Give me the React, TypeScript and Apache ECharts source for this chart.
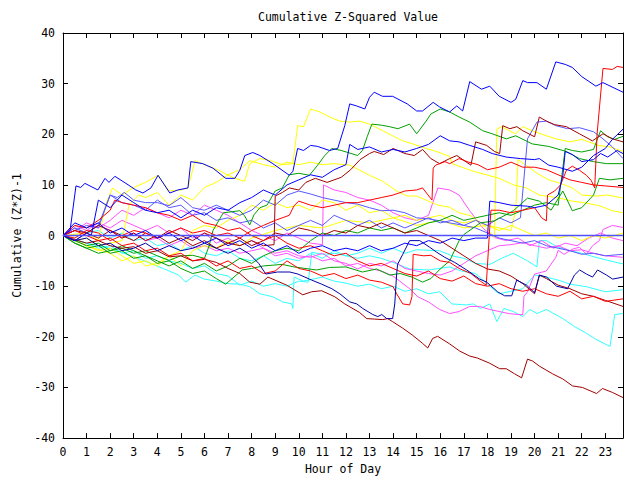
import React, { useEffect, useRef } from "react";
import * as echarts from "echarts";

type P = [number, number];

const title = "Cumulative Z-Squared Value";
const xName = "Hour of Day";
const yName = "Cumulative (Z*Z)-1";
const hourTicks = Array.from({ length: 24 }, (_, i) => i);

const blueTop: P[] = [[0,0],[0.3,1],[0.55,9.8],[0.75,9.5],[0.93,10.3],[1.48,9],[1.78,11.3],[1.95,10.5],[2.2,11.7],[2.67,10.3],[3.09,9],[3.39,8.4],[3.73,9.4],[4.03,11.9],[4.53,8.4],[4.87,9],[5.3,9.4],[5.42,14.6],[5.93,14.2],[6.36,13.3],[6.9,11.3],[7.29,11.3],[7.5,12.9],[7.71,15.8],[8.05,16.4],[8.35,15.8],[8.9,14.2],[9.6,11.9],[9.75,12.7],[9.95,17.2],[10.2,16.8],[10.5,17.8],[10.8,17.6],[11.3,16.8],[11.65,17.2],[11.95,21.7],[12.16,26],[12.45,25.6],[12.8,25],[13.0,27.3],[13.2,28.3],[13.55,27.5],[13.98,27.5],[14.6,26],[15.0,24.6],[15.25,24.6],[15.7,26.3],[15.97,25.4],[16.4,24.4],[16.7,25.6],[16.95,24.6],[17.25,30.4],[17.75,28.9],[18.1,29.5],[18.5,27.5],[19.0,26.3],[19.2,26.9],[19.5,30.6],[19.7,30.2],[20.1,30.2],[20.5,28.9],[20.9,34.3],[21.3,33.8],[21.6,33.2],[22.0,31.4],[22.6,29.5],[22.9,30.2],[23.75,28.3]];
const blueMid: P[] = [[0,0],[0.5,-1],[1,0.5],[1.2,0],[1.5,7],[2,5.5],[2.5,8],[3,6.5],[3.5,5],[4,4.5],[4.5,5],[5,3.5],[5.5,5],[6,4],[6.5,5.5],[7,5],[7.5,6.5],[8,7.5],[8.5,9],[9,8],[9.5,10],[10,11],[10.5,12],[11,11.5],[11.5,13],[12,14],[12.16,18],[12.5,17],[13,17.5],[13.5,16.5],[14,17],[14.5,16.5],[15,17.2],[15.5,18],[16,19.7],[16.4,18.7],[16.8,18.5],[17.25,17.8],[17.8,17],[18.2,16.2],[18.8,15.5],[19.4,15.2],[20,15],[20.2,15.2],[20.6,13.9],[21,13.5],[21.6,12.7],[22,13.5],[22.5,15.8],[23,17.2],[23.3,19],[23.75,21]];
const blueLow: P[] = [[0,0],[0.5,2.5],[1,1.5],[1.5,2.5],[2,0.5],[2.5,1.5],[3,0],[3.5,1],[4,-0.5],[4.5,0.5],[5,-1],[5.5,0],[6,-1.5],[6.5,-0.5],[7,-2],[7.5,-1],[8,-2.5],[8.5,-1.5],[9,-3],[9.5,-2],[10,-3.5],[10.5,-2.5],[11,-2],[11.5,-3],[12,-2.5],[12.5,-3],[13,-2],[13.5,-3],[14,-2.5],[14.5,-1.5],[15,-2],[15.5,-1],[16,-1.5],[16.5,-0.5],[17,-1],[17.5,-0.5],[18.0,-0.5],[18.1,6.8],[18.5,6.5],[19,6],[19.7,5.8],[20,5.5],[20.5,6],[21,8],[21.2,11.9],[21.3,16.6],[21.6,16],[22,14.6],[22.5,15],[22.8,16.2],[23.1,15.5],[23.5,16.8],[23.75,16.2]];
const navy: P[] = [[0,0],[0.5,-1],[1,-0.5],[1.5,-2],[2,-1.5],[2.5,-3],[3,-2.5],[3.5,-1.5],[4,-3],[4.5,-2],[5,-3],[5.5,-2.5],[6,-1.5],[6.5,-2.5],[7,-3.5],[7.5,-2.5],[7.92,-3.7],[8.3,-5.5],[8.6,-7.6],[9.1,-7.2],[9.62,-7.2],[9.96,-7.6],[10.55,-8.8],[10.97,-9.6],[11.4,-10.5],[11.74,-11.5],[12.16,-13.1],[12.46,-13.5],[12.71,-14.4],[13.14,-15.6],[13.35,-16],[13.52,-15.6],[13.73,-16.4],[13.98,-16.4],[14.07,-13.5],[14.15,-7.6],[14.19,-5.7],[14.41,-3.7],[14.7,-1],[15.13,-1],[15.55,-2.3],[15.85,-3.3],[16.19,-4.3],[16.61,-5.3],[17.12,-6.8],[17.67,-8.6],[17.97,-9.2],[18.43,-11.1],[18.73,-11.9],[19.03,-11.9],[19.24,-8.8],[19.66,-9.8],[20,-11.3],[20.21,-7.8],[20.51,-8.2],[20.93,-10],[21.4,-10.5],[21.69,-7.8],[21.91,-6.8],[22.2,-7.6],[22.46,-8.2],[22.67,-6.8],[23.05,-7.8],[23.31,-8.6],[23.75,-8.2]];
const redJump: P[] = [[0,0],[0.5,1],[1,0],[1.5,-1],[2,-0.5],[2.5,-2],[3,-1.5],[3.5,-3],[4,-2.5],[4.5,-4],[5,-3.5],[5.5,-5],[6,-4.5],[6.5,-6],[7,-5],[7.5,-6.5],[8,-6],[8.5,-7.5],[9,-7],[9.5,-5],[10,-6.5],[10.5,-7],[11,-8],[11.5,-7.5],[12,-8.5],[12.5,-7.8],[13,-8.8],[13.5,-9.2],[14,-10.1],[14.15,-11.5],[14.41,-13.5],[14.7,-13.7],[14.8,-12.1],[14.85,-3.7],[15.3,-4],[15.6,-3.9],[16,-5],[16.4,-5.3],[16.8,-6.5],[17.3,-7.5],[17.7,-9],[17.95,-9.8],[18.1,1.6],[18.15,5],[18.5,5],[19,4.5],[19.5,5],[20,5.5],[20.3,3.5],[20.5,2.9],[20.55,8],[20.85,8.8],[21.1,10],[21.35,12.9],[21.6,13.7],[21.9,12.9],[22.2,11.9],[22.4,10.9],[22.55,9.4],[22.65,20],[22.9,33],[23.3,32.8],[23.5,33.4],[23.75,33.2]];
const redDown: P[] = [[0,0],[0.5,2],[1,1.5],[1.5,3],[2,5],[2.2,7],[2.5,6.5],[3,6],[3.5,5.5],[4,4.5],[4.5,4],[5,3],[5.5,4],[6,2.5],[6.5,2],[7,1],[7.5,1.5],[8,0],[8.5,-1],[9,0],[9.5,-1.5],[10,-2.5],[10.5,-2],[11,-3],[11.5,-4],[12,-3.5],[12.5,-5],[13,-6],[13.5,-5.5],[14,-6.5],[14.5,-7.5],[15,-8],[15.5,-7],[16,-8.5],[16.5,-9],[17,-8],[17.5,-9.5],[18,-10],[18.5,-9.5],[19,-10.5],[19.5,-11],[20,-10.5],[20.5,-11.5],[21,-12],[21.5,-11],[22,-12.5],[22.5,-12],[23,-13],[23.75,-12.5]];
const redMid: P[] = [[0,0],[0.5,-0.5],[1,1],[1.5,0.5],[2,-1],[2.5,0],[3,1],[3.5,0.5],[4,-0.5],[4.5,0.5],[5,1.5],[5.5,0.5],[6,1],[6.5,0],[7,0.5],[7.5,-0.5],[8,1],[8.5,2],[9,3],[9.6,4],[9.8,5.9],[10,6.8],[10.5,6],[11,5.5],[11.5,6],[12,6.5],[12.5,6.5],[13,7],[13.5,7.5],[14,8],[14.5,8.8],[15,9],[15.25,9.4],[15.65,7],[15.7,13.3],[15.8,13.9],[16.2,14.6],[16.4,14.2],[16.8,15.2],[17.2,14.5],[17.6,14],[18,13],[18.5,13.5],[19,14.5],[19.5,13.5],[20,13.5],[20.5,13],[21,12],[21.5,11],[22,10.5],[22.5,10],[23,9.8],[23.75,9.5]];
const greenTop: P[] = [[0,0],[0.5,-1],[1,-2],[1.5,-1.5],[2,-3],[2.5,-2.5],[3,-3.5],[3.5,-3],[4,-4],[4.5,-4.9],[5,-4],[5.5,-3.9],[6,-4.5],[6.2,-2],[6.36,1],[6.8,4.5],[7.5,4.9],[7.7,3.9],[7.92,2.1],[8.1,4.1],[8.35,5.5],[8.65,6],[9.0,8.8],[9.3,9.4],[9.6,12],[10.0,12.3],[10.45,11.9],[10.8,13.9],[11.1,15.8],[11.4,17.2],[11.8,16.8],[12.5,15.8],[12.7,16.8],[12.9,19.5],[13.1,22],[13.5,21.8],[13.85,21.5],[14.2,21.1],[14.7,22],[15.0,20.1],[15.4,22.6],[15.6,24],[16.0,25],[16.4,24.4],[16.8,23.4],[17.25,22.4],[17.8,20.7],[18.2,20.1],[18.8,19.1],[19.2,19.7],[19.9,18.1],[20.6,17.6],[21.35,16.6],[21.9,15.2],[22.5,14.6],[23.05,14.2],[23.75,14.2]];
const greenMid: P[] = [[0,0],[0.5,-1.5],[1,-2.5],[1.5,-2],[2,-3.5],[2.5,-3],[3,-4.5],[3.5,-4],[4,-5.5],[4.5,-5],[5,-6.5],[5.5,-7.5],[6,-7],[6.5,-8.5],[6.9,-9.6],[7.6,-6.8],[8,-6.5],[8.5,-6],[9.3,-5.7],[9.8,-6.2],[10.75,-6.8],[11.3,-6.3],[12.0,-6.2],[12.7,-7.2],[13.3,-6.6],[13.85,-7.8],[14.3,-7.5],[14.8,-8.2],[15.25,-9.2],[15.6,-8.5],[16.0,-6.6],[16.4,-5],[16.8,-1],[17.0,0.2],[17.7,2.5],[18.3,2.9],[19.1,4.9],[19.7,7.4],[20.2,6.8],[20.7,5],[21.2,8.8],[21.6,4.9],[22,5.5],[22.5,8],[22.75,11.3],[23.2,11],[23.75,11.3]];
const greenLow: P[] = [[0,0],[0.5,-1.5],[1,-2.5],[1.5,-3.5],[2,-3],[2.5,-2],[3,-3],[3.5,-4],[4,-5],[4.5,-6],[5,-5],[5.5,-6.5],[6,-5.5],[6.5,-7],[7,-6],[7.5,-4.5],[8,-5.5],[8.5,-4],[9,-3],[9.5,-2.5],[10,-3],[10.5,-1],[11,0.5],[11.5,0],[12,1],[12.5,0.5],[13,1.5],[13.5,1],[14,1.5],[14.5,0.5],[15,1.5],[15.5,2.5],[16,3],[16.5,4],[17,3],[17.5,3.5],[18,4],[18.5,4.5],[19,4],[19.5,5],[20,6],[20.5,6.5],[21.0,6],[21.3,17.2],[21.6,16.8],[22,16.5],[22.5,17],[22.8,20.7],[23.1,19.5],[23.4,19],[23.75,19.6]];
const yellowTop: P[] = [[0,0],[1,0.5],[1.5,-1],[1.8,6],[2.1,9.4],[2.5,8],[3,9.5],[3.5,10.5],[4.03,11.9],[4.5,8.8],[5,9],[5.3,9.4],[5.6,14.8],[6,14],[6.6,12.9],[7,11.9],[7.3,11.3],[7.7,10.7],[7.92,14.2],[8.35,15.2],[8.8,14.8],[9.3,14],[9.75,14.2],[9.95,21.7],[10.2,21.5],[10.5,25],[10.9,24.4],[11.3,23.4],[11.74,22.6],[12.16,22.4],[12.58,22.6],[13,22],[13.56,20.7],[13.98,19.7],[14.41,18.7],[14.83,18.1],[15.4,17.2],[15.85,16.6],[16.4,15.6],[16.5,14.2],[17.4,12.7],[18.5,11.3],[19.1,10],[19.66,9.4],[20.2,8],[21.06,7.4],[21.6,6.8],[22.2,6.4],[22.75,5.9],[23.3,4.9],[23.75,4.5]];
const yellowJump: P[] = [[0,0],[0.5,-1],[1,-0.5],[1.5,-2],[2,-1.5],[2.5,-1],[2.8,6],[3.2,8],[3.5,7.5],[4,8.5],[4.5,6],[5,8],[5.5,7],[6,9.5],[6.5,10.5],[7,12],[7.5,13],[7.92,14.8],[8.5,14],[9,13.5],[9.5,14.5],[10,14],[10.5,14.5],[11,14],[11.5,14.2],[12.16,13.9],[12.58,12.9],[13,11.9],[13.56,10.7],[14.15,8.8],[14.6,7.8],[15,7.8],[15.5,6.8],[15.9,6],[16.4,5.6],[16.8,4.5],[17.3,3.9],[17.85,2.1],[18.3,-0.4],[18.4,21],[18.6,21.5],[19,20.5],[19.2,20.1],[19.5,21.5],[19.9,20.7],[20.5,19.7],[20.9,19.1],[21.5,18.5],[22,19],[22.7,17.8],[23.2,17.5],[23.75,16.6]];
const yellowLow: P[] = [[0,0],[1,-2],[2,-3.5],[2.5,-5],[3,-4],[3.5,-6],[4,-5.5],[4.5,-4],[5,-6],[5.5,-3],[6,-2],[6.5,-2.5],[7,-1],[7.5,-2],[8,-0.5],[9,1],[10,2],[11,1.5],[12,3],[13,2.5],[14,3.5],[15,2],[16,3],[17,1.5],[18,2],[19.0,1],[19.2,5],[19.3,15],[19.6,14],[20.1,12.3],[20.6,11],[21.1,10.3],[21.6,9.4],[22,8],[22.6,7.8],[23.1,8],[23.75,7.4]];
const yellowMid: P[] = [[0,0],[0.5,-1],[1,-2],[1.5,-3],[2,-2.5],[2.5,-4],[3,-5.5],[3.5,-5],[4,-6],[4.5,-4],[5,-3],[5.5,1],[6,2],[6.5,1.5],[7,3],[7.5,4],[8,6],[8.5,5],[9,6.5],[9.5,5.5],[10,6],[10.5,5],[11,7],[11.5,6.5],[12,5],[12.5,6],[13,4.5],[13.5,5],[14,3.5],[14.5,4],[15,3],[15.5,3.5],[16,4],[16.5,3],[17,2.5],[17.5,3],[18,2],[18.5,1],[19,2],[19.5,1],[20,0],[20.5,0.5],[21,-0.5],[21.5,0],[22,-1],[22.5,0],[23,-0.5],[23.75,0.5]];
const darkRedBottom: P[] = [[0,0],[0.5,-0.8],[1,-1.5],[1.5,-1],[2,-2],[2.5,-2.5],[3,-2.2],[3.5,-3.5],[4,-3],[4.5,-4.2],[5,-4],[5.5,-5],[6,-4.7],[6.5,-5.3],[7,-6.5],[7.5,-7.5],[7.92,-9.2],[8.35,-9.6],[8.69,-8.2],[9.49,-9.8],[10.17,-11.7],[10.55,-11.1],[10.97,-10.9],[11.53,-12.1],[11.95,-13.5],[12.58,-15.2],[12.88,-16.4],[13.22,-16.5],[13.56,-16.6],[13.77,-16.4],[13.98,-17],[14.41,-18.3],[14.83,-19.7],[15.25,-21.3],[15.47,-22.2],[15.68,-20.3],[15.89,-19.9],[16.4,-21.4],[16.82,-22.8],[17.25,-23.8],[17.58,-24.2],[18.09,-25.2],[18.52,-26.3],[18.8,-26.3],[19.15,-27.3],[19.45,-28.1],[19.7,-24.4],[19.92,-24.8],[20.21,-25.8],[20.76,-27.3],[21.19,-28.3],[21.61,-29.7],[22.03,-30],[22.63,-31.2],[22.88,-30.2],[23.31,-31],[23.75,-32]];
const darkRedUp: P[] = [[0,0],[0.5,1],[1,0.5],[1.5,2],[2,1],[2.5,-0.5],[3,0.5],[3.5,-1],[4,0],[4.5,-1.5],[5,-0.5],[5.5,-2],[6,-1],[6.5,-2.5],[7,-1.5],[7.5,-2],[8,-1],[8.5,-2],[8.95,-1.8],[9.0,7.8],[9.3,8.5],[9.6,9.4],[10,9],[10.3,10.5],[10.7,11.3],[11.2,10.5],[11.8,11.5],[12.2,13],[12.6,15],[13.0,16.2],[13.2,16.6],[13.6,16],[14.0,17.2],[14.5,16.2],[14.9,15.8],[15.25,17],[15.6,15.2],[15.97,14.2],[16.4,15.2],[16.7,15.8],[17.3,13.9],[17.5,18.5],[17.97,17.8],[18.3,16.6],[18.52,16.2],[18.65,21.7],[18.95,21.1],[19.25,21.5],[19.5,20.7],[20.0,19.5],[20.2,23.4],[20.5,22.6],[20.85,21.9],[21.35,21.5],[21.9,20.1],[22.45,18.7],[22.9,20.1],[23.3,19.1],[23.75,18.5]];
const darkRedMid: P[] = [[0,0],[0.5,-1],[1,0.5],[1.5,-0.5],[2,1],[2.5,0],[3,-1],[3.5,0.5],[4,-0.5],[4.5,1],[5,0],[5.5,-1],[6,0.5],[6.5,-0.5],[7,-1.5],[7.5,-0.5],[8,-2],[8.5,-1],[9,0.5],[9.5,0],[10,1.5],[10.5,1],[11,0],[11.5,1],[12,0.5],[12.5,2],[13,1.5],[13.5,2.5],[14,1.5],[14.5,0.5],[15,1],[15.5,0],[16,-1],[16.5,-2.5],[17,-4],[17.5,-5.5],[18,-6.6],[18.5,-7],[19,-8],[19.5,-9.5],[20,-11.5],[20.2,-7.8],[20.5,-8.5],[21,-9.8],[21.5,-10.5],[22,-11.5],[22.5,-12],[23,-12.8],[23.75,-14]];
const magentaJump: P[] = [[0,0],[0.5,1.5],[1,0.5],[1.5,2],[2,1],[2.5,-0.5],[3,0.5],[3.5,-1],[4,-0.5],[4.5,-2],[5,-1],[5.5,-2.5],[6,-2],[6.5,-3],[7,-2.5],[7.5,-3.5],[8,-3],[8.5,-2.5],[9,-4],[9.5,-3.5],[10,-4.5],[10.5,-4],[11,-5],[11.5,-4.5],[12,-6],[12.5,-5.5],[13,-6.5],[13.5,-7],[14,-8],[14.7,-10.5],[15.05,-12.1],[15.5,-13.1],[15.97,-14.6],[16.4,-15.4],[16.8,-15],[17.25,-14],[17.67,-14],[18.1,-14.6],[18.5,-15],[18.9,-15.4],[19.3,-15.6],[19.5,-15.6],[19.55,-12],[19.7,-11.1],[20,-7.6],[20.5,-7],[20.9,-4.3],[21.0,-2.9],[21.25,-3.7],[21.6,-2.7],[21.9,-2.3],[22.2,-3.7],[22.46,-2],[22.75,-1],[22.9,1.2],[23.3,2],[23.75,1.6]];
const magentaMid: P[] = [[0,0],[0.5,2],[1,1],[1.5,2.5],[2,1.5],[2.5,3],[3,2],[3.5,1],[4,2],[4.5,0.5],[5,1.5],[5.5,-0.5],[6,0.5],[6.5,-1.5],[7,-0.5],[7.5,-2],[8,-1],[8.5,-2.5],[9,-3.5],[9.5,-3],[10,-4],[10.5,-4.3],[11,-3.5],[11.5,-5],[12,-5.5],[12.5,-6.6],[13,-5.5],[13.5,-6],[14,-5],[14.5,-6.5],[15,-7],[15.5,-7.5],[16,-7.8],[16.5,-7],[17,-5.5],[17.5,-4],[18,-3],[18.5,-2],[19,-1.8],[19.5,-1.4],[20,-2],[20.5,-2.5],[21,-2],[21.5,-3],[22,-2.8],[22.5,-3.5],[23,-4],[23.75,-4.3]];
const magentaUp: P[] = [[0,0],[0.5,1],[1,2.5],[1.5,1.5],[2,3],[2.5,5],[3,4],[3.5,5.5],[4,4.5],[4.5,3.5],[5,5],[5.5,4],[6,6],[6.5,5],[7,4],[7.5,2.5],[8,1],[8.5,0],[9,-1],[9.5,0.5],[10,-0.5],[10.5,-1.5],[11.0,-1.8],[11.05,10],[11.5,9],[12,8.5],[12.5,7.5],[13,7],[13.5,6],[14,4.5],[14.5,3.5],[15,3],[15.5,4],[15.9,9.4],[16.4,9],[16.8,8],[17.25,4.9],[17.8,1.5],[18.3,-0.4],[18.8,-1],[19.3,-0.5],[19.8,-2],[20.3,-1],[20.8,-2.5],[21.3,-1.5],[21.8,-2],[22.3,-0.5],[22.8,0.5],[23.3,-0.5],[23.75,-1]];
const cyanBottom: P[] = [[0,0],[1,-1.5],[2,-2.5],[3,-4.2],[3.4,-4.9],[4.3,-6.6],[4.9,-7.8],[5.2,-9.2],[5.6,-7.8],[6,-8.6],[6.5,-9],[7,-9.5],[7.5,-9.6],[7.92,-10.1],[8.35,-11.5],[8.56,-11.7],[8.9,-12.1],[9.32,-13.1],[9.7,-13.5],[9.75,-14.4],[9.8,-8.2],[10.2,-9],[10.6,-8.6],[11,-8.2],[11.5,-9],[12,-9.4],[12.5,-10],[13,-9.6],[13.5,-10.5],[14,-10],[14.5,-11],[15,-10.5],[15.5,-11.5],[15.97,-11.1],[16.5,-13.5],[17.1,-13.7],[17.4,-13.5],[17.7,-14.4],[18.1,-13.5],[18.4,-17],[18.7,-14.4],[19.1,-15],[19.5,-16],[19.8,-14.6],[20.1,-15.4],[20.5,-14.6],[21.2,-16.4],[21.7,-18],[22.2,-19.3],[22.6,-20.5],[23.2,-21.9],[23.4,-15.6],[23.75,-15.4]];
const cyanMid: P[] = [[0,0],[0.5,-1],[1,-1.5],[1.5,-2.5],[2,-2],[2.5,-3.5],[3,-3],[3.5,-4.5],[4,-4],[4.5,-5],[5,-5.5],[5.5,-6.5],[6,-6],[6.5,-7.5],[7,-8],[7.5,-9.8],[8,-9],[8.5,-10],[9,-9.5],[9.5,-10],[10,-9],[10.4,-9.2],[10.55,-3.3],[11,-3.7],[11.5,-3.5],[12,-4],[12.5,-4.5],[13,-4],[13.5,-4.5],[14,-5.3],[14.7,-6.6],[15.5,-6.8],[16.4,-6.2],[16.9,-7],[17.5,-7.5],[18.1,-10],[18.5,-11.5],[19,-11],[19.5,-10.5],[20,-7.8],[20.5,-8.2],[21,-8.8],[21.5,-9.6],[22.2,-10.1],[23,-11.1],[23.75,-10.7]];
const cyanUp: P[] = [[0,0],[0.5,1.5],[1,0.5],[1.5,1],[2,-0.5],[2.5,0.5],[3,-1],[3.5,-0.5],[4,-2],[4.5,-1.5],[5,-3],[5.5,-2],[6,-3.5],[6.5,-4],[7,-3],[7.5,-4.5],[8,-5],[8.5,-4],[9,-5.5],[9.5,-4.5],[10,-5],[10.5,-3.5],[11,-4.5],[11.5,-3],[12,-4],[12.5,-3.5],[13,-2.5],[13.5,-3.5],[14,-2.5],[14.5,-3.5],[15,-2.8],[15.97,-3],[16.5,-4],[17,-4.5],[17.5,-5.5],[18.1,-5.7],[18.6,-4.5],[19.1,-3.5],[19.7,-5],[20.1,-6.2],[20.2,-1],[20.5,-1],[21,-2.3],[21.5,-3],[22,-3.5],[22.6,-4.3],[23.1,-4.9],[23.75,-5.6]];
const periTop: P[] = [[0,0],[0.5,1],[1,2],[1.5,1.5],[2,8],[2.5,6.5],[3,6],[3.5,5],[4,7],[4.5,5.5],[5,6],[5.5,4],[6,4.5],[6.5,3],[7,3.5],[7.5,2.5],[8,3],[8.5,1.5],[9,2.5],[9.5,1],[10,2],[10.5,3],[11,2],[11.5,4],[12,3],[12.5,2],[13,3],[13.5,1.5],[14,2.5],[14.5,1.5],[15,2.5],[15.5,3.5],[16,2.5],[16.5,3],[17,2],[17.5,3],[18,2],[18.5,3.5],[19,2.5],[19.4,3.5],[19.7,19.1],[20.1,22.4],[20.5,22.6],[20.9,21.7],[21.4,21.1],[21.9,21.3],[22.5,20.5],[22.9,19.1],[23.3,17.5],[23.75,15.2]];
const periLow: P[] = [[0,0],[0.5,1.5],[1,0.5],[1.5,2],[2,8],[2.3,7.5],[2.6,8.5],[3,7],[3.5,6.5],[4,6.5],[4.5,5.9],[5,7.5],[5.5,5.5],[6,5],[6.5,6],[7,5],[7.5,4],[8,5],[8.5,7],[9,6],[9.5,8],[10,8.8],[10.5,8.2],[11,7.5],[11.5,7],[12,6.5],[12.5,6.2],[13,5.5],[13.5,4.9],[14,5],[14.5,4.5],[15,3.5],[15.5,3.3],[16,2.9],[16.4,2.5],[17,2],[17.5,1.5],[18,0.5],[18.5,-0.5],[19,-1],[19.5,-1.5],[20,-1],[20.5,-2],[21,-2.5],[21.5,-3],[22,-3.7],[22.5,-3.5],[23,-4],[23.75,-3.7]];
const zeroLine: P[] = [[0,0],[23.75,0]];

const BLUE = "#0000ff", RED = "#ff0000", GREEN = "#00a000", YELLOW = "#ffff00", DARKRED = "#a00000";
const MAGENTA = "#ff50ff", CYAN = "#30ffff", PERI = "#5858ff", NAVY = "#0000a8", ZERO = "#5050ff";

const lines: { name: string; data: P[]; color: string; width?: number }[] = [
  { name: "c1", data: cyanBottom, color: CYAN },
  { name: "c2", data: cyanMid, color: CYAN },
  { name: "c3", data: cyanUp, color: CYAN },
  { name: "m1", data: magentaJump, color: MAGENTA },
  { name: "m2", data: magentaMid, color: MAGENTA },
  { name: "m3", data: magentaUp, color: MAGENTA },
  { name: "y1", data: yellowTop, color: YELLOW },
  { name: "y2", data: yellowJump, color: YELLOW },
  { name: "y3", data: yellowLow, color: YELLOW },
  { name: "y4", data: yellowMid, color: YELLOW },
  { name: "p1", data: periTop, color: PERI },
  { name: "p2", data: periLow, color: PERI },
  { name: "g1", data: greenTop, color: GREEN },
  { name: "g2", data: greenMid, color: GREEN },
  { name: "g3", data: greenLow, color: GREEN },
  { name: "d1", data: darkRedBottom, color: DARKRED },
  { name: "d2", data: darkRedUp, color: DARKRED },
  { name: "d3", data: darkRedMid, color: DARKRED },
  { name: "r1", data: redJump, color: RED },
  { name: "r2", data: redDown, color: RED },
  { name: "r3", data: redMid, color: RED },
  { name: "n1", data: navy, color: NAVY },
  { name: "b1", data: blueTop, color: BLUE },
  { name: "b2", data: blueMid, color: BLUE },
  { name: "b3", data: blueLow, color: BLUE },
  { name: "zero", data: zeroLine, color: ZERO, width: 1.5 },
];

const FONT = "DejaVu Sans Mono";

export default function App() {
  const ref = useRef<HTMLDivElement>(null);
  useEffect(() => {
    document.body.style.margin = "0";
    document.body.style.overflow = "hidden";
    const chart = echarts.init(ref.current!, null, { renderer: "svg", width: 640, height: 480 });
    const txt = { fontFamily: FONT, fontSize: 11.5, color: "#000" };
    const mkLine = () => ({ show: true, onZero: false, lineStyle: { color: "#000", width: 1 } });
    const mkTick = () => ({ show: true, inside: true, length: 5, lineStyle: { color: "#000", width: 1 } });
    chart.setOption({
      animation: false,
      backgroundColor: "#fff",
      title: {
        text: title, left: 343, top: 6, textAlign: "center",
        textStyle: { ...txt, fontWeight: "normal" },
      },
      grid: { left: 63, right: 17, top: 33, bottom: 37, containLabel: false },
      xAxis: [
        {
          type: "value", min: 0, max: 23.75, interval: 1, position: "bottom",
          name: xName, nameLocation: "middle", nameGap: 21, nameTextStyle: txt,
          axisLine: mkLine(), axisTick: mkTick(),
          axisLabel: { ...txt, margin: 8, showMaxLabel: false, formatter: (v: number) => (hourTicks.includes(v) ? String(v) : "") },
          splitLine: { show: false },
        },
        {
          type: "value", min: 0, max: 23.75, interval: 1, position: "top",
          axisLine: mkLine(), axisTick: mkTick(),
          axisLabel: { show: false }, splitLine: { show: false },
        },
      ],
      yAxis: [
        {
          type: "value", min: -40, max: 40, interval: 10, position: "left",
          name: yName, nameLocation: "middle", nameGap: 31, nameRotate: 90, nameTextStyle: txt,
          axisLine: mkLine(), axisTick: mkTick(),
          axisLabel: { ...txt, margin: 8 }, splitLine: { show: false },
        },
        {
          type: "value", min: -40, max: 40, interval: 10, position: "right",
          axisLine: mkLine(), axisTick: mkTick(),
          axisLabel: { show: false }, splitLine: { show: false },
        },
      ],
      series: lines.map((l) => ({
        name: l.name, type: "line", data: l.data, showSymbol: false, symbol: "none",
        xAxisIndex: 0, yAxisIndex: 0,
        lineStyle: { color: l.color, width: l.width ?? 1 }, itemStyle: { color: l.color },
        emphasis: { disabled: true }, silent: true,
      })),
    });
    return () => chart.dispose();
  }, []);
  return (
    <div
      ref={ref}
      style={{ position: "fixed", left: 0, top: 0, width: 640, height: 480, overflow: "hidden", background: "#fff" }}
    />
  );
}
